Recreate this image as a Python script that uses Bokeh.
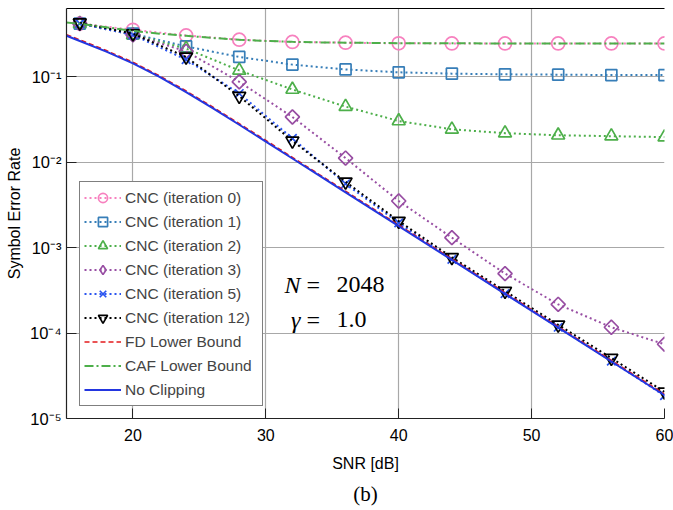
import math
from bokeh.plotting import figure
from bokeh.models import (Legend, LegendItem, FixedTicker, Label, Title, Range1d,
                          LinearAxis)
from bokeh.embed import file_html
from bokeh.resources import INLINE

# SNR grid of the simulated points [dB]
snr = [16, 20, 24, 28, 32, 36, 40, 44, 48, 52, 56, 60]

# Symbol error rate of the clipping-noise-cancellation receiver per iteration
ser_iter0 = [0.42, 0.355, 0.305, 0.272, 0.256, 0.251, 0.247, 0.246, 0.246, 0.246, 0.246, 0.246]
ser_iter1 = [0.42, 0.32, 0.227, 0.171, 0.139, 0.122, 0.113, 0.109, 0.107, 0.106, 0.105, 0.105]
ser_iter2 = [0.42, 0.31, 0.214, 0.119, 0.0711, 0.0448, 0.0304, 0.0243, 0.0219, 0.0207, 0.0202, 0.0197]
ser_iter3 = [0.42, 0.31, 0.199, 0.0875, 0.0339, 0.0112, 3.52e-3, 1.31e-3, 4.97e-4, 2.17e-4, 1.17e-4, 7.4e-5]
ser_iter5 = [0.42, 0.31, 0.159, 0.0638, 0.019, 5.6e-3, 1.95e-3, 7.3e-4, 2.9e-4, 1.17e-4, 4.7e-5, 1.85e-5]
ser_iter12 = [0.43, 0.32, 0.171, 0.0594, 0.0178, 5.9e-3, 2.05e-3, 7.7e-4, 3.1e-4, 1.25e-4, 5.1e-5, 2.05e-5]

# Analytical curves on a finer SNR grid
snr_bound = [15, 16, 18, 20, 22, 24, 26, 28, 30, 32, 34, 36, 40, 44, 48, 52, 56, 60]
ser_fd = [0.312, 0.271, 0.203, 0.148, 0.1027, 0.0683, 0.0443, 0.0283, 0.0180, 0.01139,
          0.00722, 0.00458, 0.00184, 7.4e-4, 2.97e-4, 1.19e-4, 4.79e-5, 1.93e-5]
ser_caf = [0.432, 0.418, 0.38, 0.345, 0.32, 0.302, 0.285, 0.272, 0.263, 0.257,
           0.253, 0.251, 0.248, 0.247, 0.246, 0.246, 0.246, 0.246]
ser_noclip = [0.303, 0.263, 0.197, 0.1436, 0.0997, 0.0663, 0.0430, 0.0275, 0.01745, 0.01106,
              0.00701, 0.00445, 0.00179, 7.18e-4, 2.88e-4, 1.16e-4, 4.65e-5, 1.87e-5]

x_ticks = [20, 30, 40, 50, 60]
y_ticks = [1e-5, 1e-4, 1e-3, 1e-2, 1e-1]
y_tick_labels = ["10\u207b\u2075", "10\u207b\u2074", "10\u207b\u00b3", "10\u207b\u00b2", "10\u207b\u00b9"]

SANS = "Liberation Sans"
SERIF = "Liberation Serif"

p = figure(width=673, height=510, y_axis_type="log",
           x_range=Range1d(15, 60), y_range=Range1d(1e-5, 0.631),
           output_backend="svg", toolbar_location=None,
           min_border_left=66, min_border_right=9, min_border_top=8, min_border_bottom=89)

p.outline_line_color = None
p.background_fill_color = "white"

# axes
p.xaxis.ticker = FixedTicker(ticks=x_ticks)
p.yaxis.ticker = FixedTicker(ticks=y_ticks)
p.yaxis.major_label_overrides = {t: s for t, s in zip(y_ticks, y_tick_labels)}
for ax in (p.xaxis, p.yaxis):
    ax.major_tick_in = 10
    ax.major_tick_out = 0
    ax.minor_tick_in = 0
    ax.minor_tick_out = 0
    ax.axis_line_color = "#222222"
    ax.axis_line_width = 1.2
    ax.major_tick_line_color = "#222222"
    ax.major_label_text_font = SANS
    ax.major_label_text_color = "black"
    ax.axis_label_text_font = SANS
    ax.axis_label_text_font_style = "normal"
    ax.axis_label_text_color = "black"
    ax.axis_label_text_font_size = "16px"

p.xaxis.major_label_text_font_size = "16px"
p.yaxis.major_label_text_font_size = "16.5px"
p.xaxis.major_label_standoff = 10
p.yaxis.major_label_standoff = 5
p.xaxis.axis_label = "SNR [dB]"
p.yaxis.axis_label = "Symbol Error Rate"
p.xaxis.axis_label_standoff = 11
p.yaxis.axis_label_standoff = 4

# top frame line
top = LinearAxis(ticker=FixedTicker(ticks=[]), major_label_text_font_size="0px",
                 axis_line_color="black", axis_line_width=1.2,
                 major_tick_in=0, major_tick_out=0, minor_tick_in=0, minor_tick_out=0)
p.add_layout(top, "above")

p.grid.grid_line_color = "#a8a8a8"
p.grid.grid_line_width = 1.2
p.grid.minor_grid_line_color = None

# series
DOT = "2 3"
MW = 1.7
items = []

def cnc(values, color, marker, size, label, angle=0.0, key_marker=None):
    ln = p.line(snr, values, line_color=color, line_width=2, line_dash=DOT)
    sc = p.scatter(snr, values, marker=marker, size=size, angle=angle, line_color=color,
                   fill_color=None, line_width=MW)
    if key_marker is None:
        items.append(LegendItem(label=label, renderers=[ln, sc]))
    else:
        # legend key drawn with its own (hidden) marker renderer
        key = p.scatter(snr, values, marker=key_marker, size=size + 5, line_color=color,
                        fill_color=None, line_width=MW, visible=False)
        items.append(LegendItem(label=label, renderers=[ln, key]))

cnc(ser_iter0, "#f781bf", "circle", 13, "CNC (iteration 0)")
cnc(ser_iter1, "#377eb8", "square", 11, "CNC (iteration 1)")
cnc(ser_iter2, "#4daf4a", "triangle", 13, "CNC (iteration 2)")
cnc(ser_iter3, "#984ea3", "square", 10, "CNC (iteration 3)", angle=math.pi / 4,
    key_marker="diamond")
cnc(ser_iter5, "#2b55f0", "x", 12, "CNC (iteration 5)")
cnc(ser_iter12, "black", "inverted_triangle", 13, "CNC (iteration 12)")

fd = p.line(snr_bound, ser_fd, line_color="#e41a1c", line_width=1.6, line_dash="5 3")
items.append(LegendItem(label="FD Lower Bound", renderers=[fd]))
caf = p.line(snr_bound, ser_caf, line_color="#4daf4a", line_width=2, line_dash="9 3 2 3")
items.append(LegendItem(label="CAF Lower Bound", renderers=[caf]))
nc = p.line(snr_bound, ser_noclip, line_color="#2336e0", line_width=2)
items.append(LegendItem(label="No Clipping", renderers=[nc]))

legend = Legend(items=items, location=(13, 12), orientation="vertical",
                border_line_color="black", border_line_width=1,
                background_fill_color="white", background_fill_alpha=1,
                inactive_fill_alpha=0,
                label_text_font=SANS, label_text_font_size="15.5px",
                glyph_width=37, glyph_height=23, label_height=23,
                label_standoff=4, label_width=133, spacing=1, padding=4, margin=0)
p.add_layout(legend)

# parameter annotation
def put(text, x, y, align, italic=False):
    p.add_layout(Label(x=x, y=y, x_units="screen", y_units="screen", text=text,
                       text_font=SERIF, text_font_size="24px",
                       text_font_style="italic" if italic else "normal",
                       text_align=align, text_baseline="alphabetic", text_color="black"))

put("N", 234, 134, "right", italic=True)
put("=", 240, 134, "left")
put("2048", 270, 134, "left")
put("\u03b3", 234, 99, "right", italic=True)
put("=", 240, 99, "left")
put("1.0", 270, 99, "left")

p.add_layout(Title(text="(b)", align="center", text_font=SERIF, text_font_size="21px",
                   text_font_style="normal", text_color="black"), "below")

open("out.html", "w").write(file_html(p, INLINE))
